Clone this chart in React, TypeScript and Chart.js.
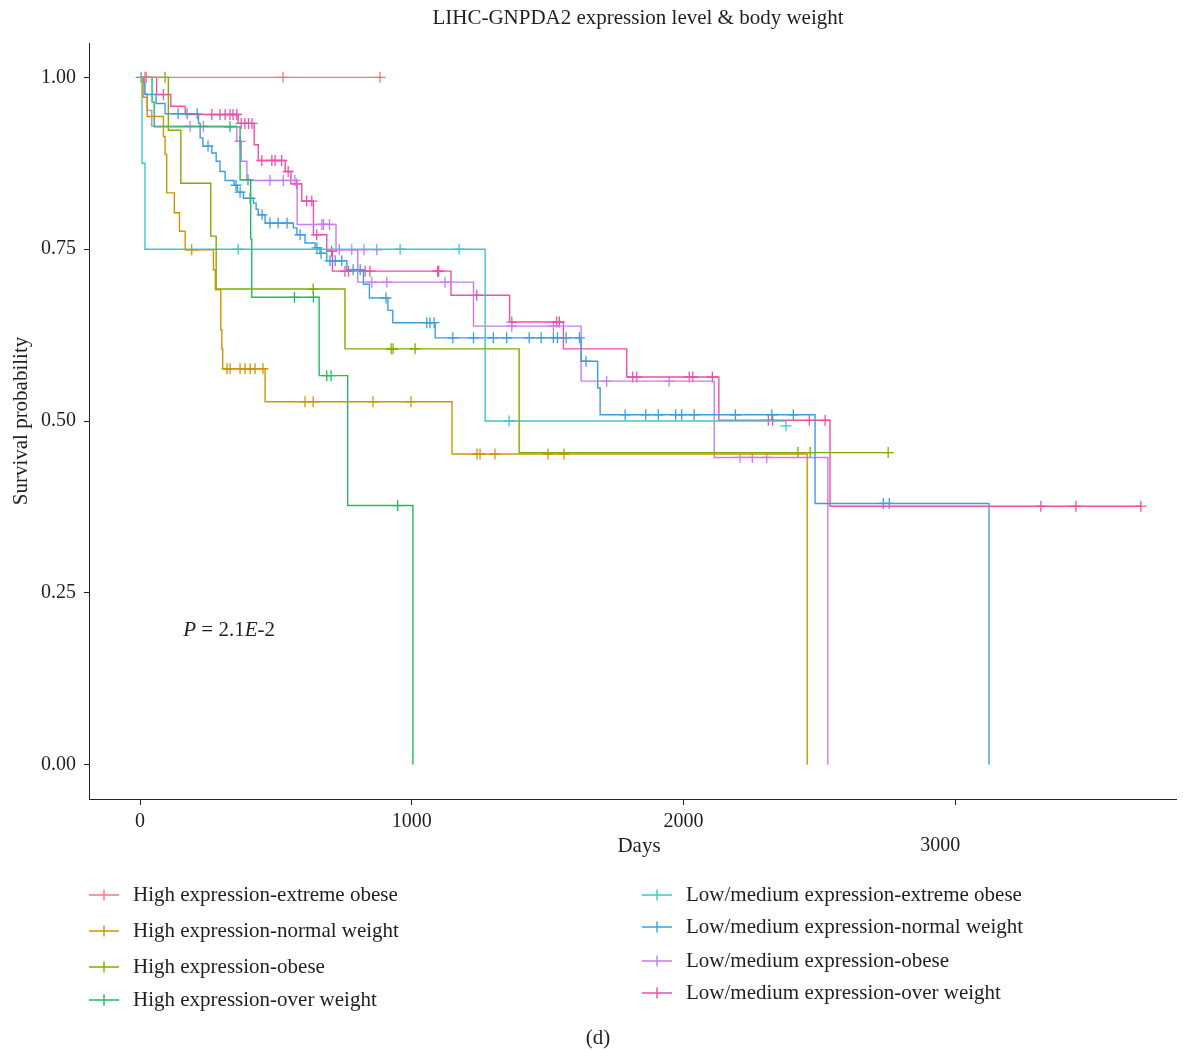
import React, { useEffect, useRef } from 'react';
import { Chart, registerables } from 'chart.js';

Chart.register(...registerables);

// ---------- labels ----------
const chartTitle = 'LIHC-GNPDA2 expression level & body weight';
const xAxisTitle = 'Days';
const yAxisTitle = 'Survival probability';
const caption = '(d)';
const pValueParts = [
  { text: 'P', italic: true },
  { text: ' = 2.1', italic: false },
  { text: 'E', italic: true },
  { text: '-2', italic: false },
];

const seriesNames = [
  'High expression-extreme obese',
  'High expression-normal weight',
  'High expression-obese',
  'High expression-over weight',
  'Low/medium expression-extreme obese',
  'Low/medium expression-normal weight',
  'Low/medium expression-obese',
  'Low/medium expression-over weight',
];
const seriesColors = ['#F8766D', '#CD9600', '#7CAE00', '#1DBE5F', '#3FC6CB', '#3E9EDD', '#C77CF0', '#EE4FA8'];

// ---------- axes ----------
const xTickValues = [0, 1000, 2000, 3000];
const yTickValues = [0, 0.25, 0.5, 0.75, 1];
const xMin = -188;
const xMax = 3813;
const yMin = -0.05;
const yMax = 1.05;

// ---------- High expression-extreme obese ----------
const hiExtStepDays: number[] = [];
const hiExtStepSurv: number[] = [];
const hiExtEndDay = 883;
const hiExtCensorDays = [18, 526, 883];
const hiExtCensorSurv = [1, 1, 1];

// ---------- High expression-normal weight ----------
const hiNormStepDays = [11, 26, 86, 92, 98, 126, 145, 166, 270, 277, 297, 301, 304, 460, 1148, 2455];
const hiNormStepSurv = [0.971, 0.943, 0.914, 0.888, 0.832, 0.803, 0.776, 0.749, 0.72, 0.691, 0.633, 0.605, 0.576, 0.528, 0.452, 0];
const hiNormEndDay = 2455;
const hiNormCensorDays = [190, 320, 331, 368, 386, 405, 423, 452, 607, 637, 857, 997, 1240, 1251, 1306, 1501, 1560];
const hiNormCensorSurv = [0.749, 0.576, 0.576, 0.576, 0.576, 0.576, 0.576, 0.576, 0.528, 0.528, 0.528, 0.528, 0.452, 0.452, 0.452, 0.452, 0.452];

// ---------- High expression-obese ----------
const hiObStepDays = [104, 150, 260, 280, 754, 1395];
const hiObStepSurv = [0.923, 0.846, 0.769, 0.692, 0.605, 0.454];
const hiObEndDay = 2753;
const hiObCensorDays = [92, 637, 924, 931, 1012, 2421, 2466, 2753];
const hiObCensorSurv = [1, 0.692, 0.605, 0.605, 0.605, 0.454, 0.454, 0.454];

// ---------- High expression-over weight ----------
const hiOvStepDays = [44, 52, 368, 407, 411, 659, 764, 1004];
const hiOvStepSurv = [0.964, 0.928, 0.851, 0.765, 0.68, 0.566, 0.377, 0];
const hiOvEndDay = 1004;
const hiOvCensorDays = [331, 397, 568, 638, 687, 703, 948];
const hiOvCensorSurv = [0.928, 0.851, 0.68, 0.68, 0.566, 0.566, 0.377];

// ---------- Low/medium expression-extreme obese ----------
const loExtStepDays = [7, 18, 1270];
const loExtStepSurv = [0.875, 0.75, 0.5];
const loExtEndDay = 2377;
const loExtCensorDays = [361, 957, 1174, 1358, 2377];
const loExtCensorSurv = [0.75, 0.75, 0.75, 0.5, 0.493];

// ---------- Low/medium expression-normal weight ----------
const loNormStepDays = [12, 18, 59, 92, 215, 221, 231, 264, 280, 294, 313, 346, 358, 380, 417, 427, 435, 460, 564, 577, 607, 644, 662, 687, 761, 822, 844, 912, 930, 1086, 1623, 1684, 1693, 2484, 3124];
const loNormStepSurv = [0.992, 0.975, 0.962, 0.947, 0.933, 0.912, 0.9, 0.89, 0.878, 0.863, 0.85, 0.843, 0.833, 0.824, 0.817, 0.808, 0.8, 0.788, 0.781, 0.771, 0.759, 0.752, 0.744, 0.733, 0.72, 0.699, 0.679, 0.661, 0.643, 0.621, 0.587, 0.548, 0.509, 0.38, 0];
const loNormEndDay = 3124;
const loNormCensorDays = [4, 140, 173, 210, 250, 353, 368, 405, 449, 478, 508, 541, 589, 651, 666, 699, 718, 742, 784, 810, 905, 1055, 1067, 1082, 1151, 1227, 1300, 1349, 1432, 1476, 1521, 1536, 1568, 1617, 1641, 1785, 1861, 1907, 1971, 1993, 2039, 2191, 2325, 2404, 2735, 2757];
const loNormCensorSurv = [1, 0.947, 0.947, 0.947, 0.9, 0.843, 0.833, 0.824, 0.8, 0.788, 0.788, 0.788, 0.771, 0.752, 0.744, 0.733, 0.733, 0.733, 0.72, 0.72, 0.679, 0.643, 0.643, 0.643, 0.621, 0.621, 0.621, 0.621, 0.621, 0.621, 0.621, 0.621, 0.621, 0.621, 0.587, 0.509, 0.509, 0.509, 0.509, 0.509, 0.509, 0.509, 0.509, 0.509, 0.38, 0.38];

// ---------- Low/medium expression-obese ----------
const loObStepDays = [15, 26, 43, 356, 372, 393, 578, 721, 801, 1227, 1623, 2113, 2531];
const loObStepSurv = [0.976, 0.952, 0.929, 0.907, 0.878, 0.85, 0.786, 0.749, 0.702, 0.638, 0.558, 0.447, 0];
const loObEndDay = 2531;
const loObCensorDays = [184, 233, 368, 478, 527, 570, 669, 675, 697, 733, 779, 824, 871, 853, 908, 1122, 1368, 1521, 1717, 1947, 2208, 2253, 2306];
const loObCensorSurv = [0.929, 0.929, 0.907, 0.85, 0.85, 0.85, 0.786, 0.786, 0.786, 0.749, 0.749, 0.749, 0.749, 0.702, 0.702, 0.702, 0.638, 0.638, 0.558, 0.558, 0.447, 0.447, 0.447];

// ---------- Low/medium expression-over weight ----------
const loOvStepDays = [61, 113, 166, 361, 420, 435, 534, 555, 595, 638, 687, 708, 1144, 1360, 1558, 1791, 2130, 2539];
const loOvStepSurv = [0.975, 0.958, 0.946, 0.933, 0.902, 0.879, 0.863, 0.845, 0.82, 0.771, 0.747, 0.718, 0.683, 0.644, 0.605, 0.564, 0.501, 0.376];
const loOvEndDay = 3683;
const loOvCensorDays = [22, 86, 264, 294, 313, 331, 342, 356, 372, 386, 399, 412, 448, 485, 497, 521, 545, 576, 613, 632, 650, 705, 754, 767, 828, 846, 1095, 1099, 1239, 1368, 1533, 1543, 1813, 1828, 2021, 2034, 2106, 2312, 2328, 2463, 2521, 3315, 3444, 3683];
const loOvCensorSurv = [1, 0.975, 0.946, 0.946, 0.946, 0.946, 0.946, 0.946, 0.933, 0.933, 0.933, 0.933, 0.879, 0.879, 0.879, 0.879, 0.863, 0.845, 0.82, 0.82, 0.771, 0.747, 0.718, 0.718, 0.718, 0.718, 0.718, 0.718, 0.683, 0.644, 0.644, 0.644, 0.564, 0.564, 0.564, 0.564, 0.564, 0.501, 0.501, 0.501, 0.501, 0.376, 0.376, 0.376];

const seriesSteps = [
  [hiExtStepDays, hiExtStepSurv, hiExtEndDay, hiExtCensorDays, hiExtCensorSurv],
  [hiNormStepDays, hiNormStepSurv, hiNormEndDay, hiNormCensorDays, hiNormCensorSurv],
  [hiObStepDays, hiObStepSurv, hiObEndDay, hiObCensorDays, hiObCensorSurv],
  [hiOvStepDays, hiOvStepSurv, hiOvEndDay, hiOvCensorDays, hiOvCensorSurv],
  [loExtStepDays, loExtStepSurv, loExtEndDay, loExtCensorDays, loExtCensorSurv],
  [loNormStepDays, loNormStepSurv, loNormEndDay, loNormCensorDays, loNormCensorSurv],
  [loObStepDays, loObStepSurv, loObEndDay, loObCensorDays, loObCensorSurv],
  [loOvStepDays, loOvStepSurv, loOvEndDay, loOvCensorDays, loOvCensorSurv],
] as [number[], number[], number, number[], number[]][];

const pValueDay = 159;
const pValueSurv = 0.195;

const FONT = '"Liberation Serif", "DejaVu Serif", serif';
const TEXT = '#1f1f1f';

const textPlugin = {
  id: 'kmText',
  afterDraw(chart: any) {
    const ctx: CanvasRenderingContext2D = chart.ctx;
    ctx.save();
    ctx.fillStyle = TEXT;
    ctx.textBaseline = 'middle';
    ctx.textAlign = 'center';
    ctx.font = `21px ${FONT}`;
    ctx.fillText(chartTitle, 638, 18);
    ctx.fillText(xAxisTitle, 639, 846);
    ctx.fillText(caption, 598, 1038);

    // p-value
    const px = chart.scales.x.getPixelForValue(pValueDay);
    const py = chart.scales.y.getPixelForValue(pValueSurv);
    ctx.textAlign = 'left';
    let cx = px;
    for (const part of pValueParts) {
      ctx.font = `${part.italic ? 'italic ' : ''}21px ${FONT}`;
      ctx.fillText(part.text, cx, py);
      cx += ctx.measureText(part.text).width;
    }

    // legend
    const leftRows = [895, 931, 967, 1000];
    const rightRows = [895, 927, 961, 993];
    ctx.font = `21px ${FONT}`;
    seriesNames.forEach((name, i) => {
      const col = i < 4 ? 0 : 1;
      const row = i % 4;
      const y = col === 0 ? leftRows[row] : rightRows[row];
      const x0 = col === 0 ? 89 : 642;
      const color = seriesColors[i];
      ctx.strokeStyle = color;
      ctx.lineWidth = 1.4;
      ctx.beginPath();
      ctx.moveTo(x0, y);
      ctx.lineTo(x0 + 30, y);
      ctx.moveTo(x0 + 15, y - 5.5);
      ctx.lineTo(x0 + 15, y + 5.5);
      ctx.stroke();
      ctx.fillStyle = TEXT;
      ctx.fillText(name, x0 + 44, y);
    });
    ctx.restore();
  },
};

export default function App() {
  const canvasRef = useRef<HTMLCanvasElement | null>(null);

  useEffect(() => {
    document.body.style.margin = '0';
    const canvas = canvasRef.current;
    if (!canvas) return;

    const lineSets: any[] = [];
    const censorSets: any[] = [];
    seriesSteps.forEach(([days, surv, endDay, cDays, cSurv], i) => {
      const pts = [{ x: 0, y: 1 }];
      days.forEach((d, k) => pts.push({ x: d, y: surv[k] }));
      const last = surv.length ? surv[surv.length - 1] : 1;
      pts.push({ x: endDay, y: last });
      lineSets.push({
        type: 'line',
        label: seriesNames[i],
        data: pts,
        borderColor: seriesColors[i],
        backgroundColor: seriesColors[i],
        borderWidth: 1.4,
        stepped: 'before',
        pointRadius: 0,
        fill: false,
        tension: 0,
      });
      censorSets.push({
        type: 'scatter',
        label: seriesNames[i] + ' censored',
        data: cDays.map((d, k) => ({ x: d, y: cSurv[k] })),
        borderColor: seriesColors[i],
        backgroundColor: seriesColors[i],
        pointStyle: 'cross',
        pointRadius: 5.5,
        pointBorderWidth: 1.3,
        borderWidth: 1.3,
        showLine: false,
      });
    });

    const tickFont = { family: FONT, size: 20 };

    const chart = new Chart(canvas, {
      type: 'line',
      data: { datasets: [...lineSets, ...censorSets] },
      options: {
        responsive: false,
        animation: false,
        devicePixelRatio: 1,
        events: [],
        layout: { padding: { top: 43, right: 3, bottom: 0, left: 0 } },
        plugins: {
          legend: { display: false },
          title: { display: false },
          tooltip: { enabled: false },
        },
        scales: {
          x: {
            type: 'linear',
            min: xMin,
            max: xMax,
            afterBuildTicks: (s: any) => {
              s.ticks = xTickValues.map((v) => ({ value: v }));
            },
            afterFit: (s: any) => {
              s.height = 254;
            },
            ticks: {
              autoSkip: false,
              maxRotation: 0,
              padding: 5,
              color: TEXT,
              font: tickFont,
              // the last label sits one line lower and slightly left, as in the source figure
              callback: (v: any, idx: number, ticks: any[]) =>
                idx === ticks.length - 1 ? ['', String(v) + '\u2002\u2002\u2002'] : String(v),
            },
            grid: { drawOnChartArea: false, drawTicks: true, tickLength: 6, color: '#222' },
            border: { display: true, color: '#222', width: 1 },
          },
          y: {
            type: 'linear',
            min: yMin,
            max: yMax,
            afterBuildTicks: (s: any) => {
              s.ticks = yTickValues.map((v) => ({ value: v }));
            },
            afterFit: (s: any) => {
              s.width = 89;
            },
            ticks: {
              padding: 8,
              color: TEXT,
              font: tickFont,
              callback: (v: any) => Number(v).toFixed(2),
            },
            grid: { drawOnChartArea: false, drawTicks: true, tickLength: 5, color: '#222' },
            border: { display: true, color: '#222', width: 1 },
            title: {
              display: true,
              text: yAxisTitle,
              color: TEXT,
              font: { family: FONT, size: 21 },
              padding: { top: 9, bottom: 0 },
            },
          },
        },
      },
      plugins: [textPlugin],
    } as any);

    return () => chart.destroy();
  }, []);

  return (
    <div style={{ width: 1183, height: 1053, background: '#fff' }}>
      <canvas ref={canvasRef} width={1183} height={1053} style={{ display: 'block' }} />
    </div>
  );
}
